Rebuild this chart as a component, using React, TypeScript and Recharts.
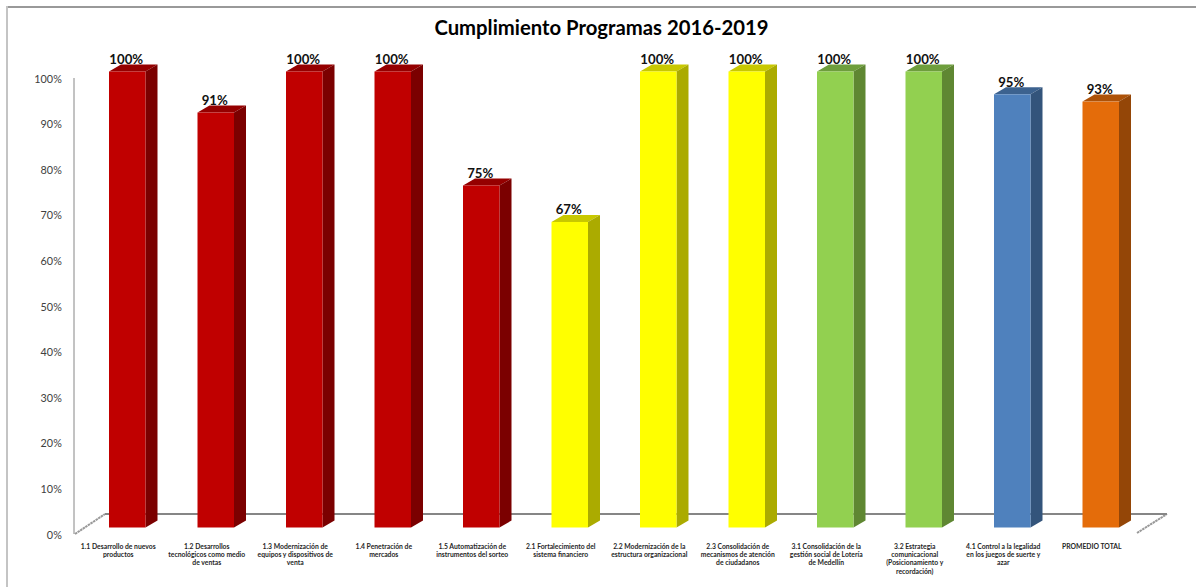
import React from 'react';
import { BarChart, Bar, XAxis, YAxis, LabelList, Customized } from 'recharts';

const titleText = 'Cumplimiento Programas 2016-2019';
const categoryLines: string[][] = [
  ['1.1 Desarrollo de nuevos', 'productos'],
  ['1.2 Desarrollos', 'tecnológicos como medio', 'de ventas'],
  ['1.3 Modernización de', 'equipos y dispositivos de', 'venta'],
  ['1.4 Penetración de', 'mercados'],
  ['1.5 Automatización de', 'instrumentos del sorteo'],
  ['2.1 Fortalecimiento del', 'sistema financiero'],
  ['2.2 Modernización de la', 'estructura organizacional'],
  ['2.3 Consolidación de', 'mecanismos de atención', 'de ciudadanos'],
  ['3.1 Consolidación de la', 'gestión social de Lotería', 'de Medellín'],
  ['3.2 Estrategia', 'comunicacional', '(Posicionamiento y', 'recordación)'],
  ['4.1 Control a la legalidad', 'en los juegos de suerte y', 'azar'],
  ['PROMEDIO TOTAL'],
];
const values = [100, 91, 100, 100, 75, 67, 100, 100, 100, 100, 95, 93.4];
const groups = ['red', 'red', 'red', 'red', 'red', 'yellow', 'yellow', 'yellow', 'green', 'green', 'blue', 'orange'];
const yTicks = [0, 10, 20, 30, 40, 50, 60, 70, 80, 90, 100];

const palette: Record<string, { front: string; top: string; side: string }> = {
  red: { front: '#C00000', top: '#950000', side: '#7B0000' },
  yellow: { front: '#FFFF00', top: '#C8C800', side: '#ABAB00' },
  green: { front: '#92D050', top: '#6E9E3C', side: '#5F8732' },
  blue: { front: '#4F81BD', top: '#3C628F', side: '#33547B' },
  orange: { front: '#E46C0A', top: '#AD5208', side: '#944607' },
};

const data = categoryLines.map((lines, i) => ({
  name: lines.join(' '),
  lines,
  value: values[i],
  group: groups[i],
}));

const FONT = 'Lato, Carlito, sans-serif';
const SHIFT_X = 9;
const SHIFT_Y = -6.5;
const DEPTH_X = 12;
const DEPTH_Y = -7;

function Bar3D(props: any) {
  const { x, y, width, height, payload } = props;
  const c = palette[payload.group];
  const l = x + SHIFT_X;
  const r = l + width;
  const t = y + SHIFT_Y;
  const b = t + height;
  return (
    <g>
      <polygon points={`${l},${t} ${l + DEPTH_X},${t + DEPTH_Y} ${r + DEPTH_X},${t + DEPTH_Y} ${r},${t}`} fill={c.top} />
      <polygon points={`${r},${t} ${r + DEPTH_X},${t + DEPTH_Y} ${r + DEPTH_X},${b + DEPTH_Y} ${r},${b}`} fill={c.side} />
      <rect x={l} y={t} width={width} height={height} fill={c.front} />
    </g>
  );
}

function ValueLabel(props: any) {
  const { x, y, width, value } = props;
  return (
    <text x={x + SHIFT_X + width / 2 - 1} y={y + SHIFT_Y - 7.5} textAnchor="middle" fontFamily={FONT} fontWeight={700} fontSize={13.2} fill="#111">
      {Math.round(value)}%
    </text>
  );
}

function CategoryTick(props: any) {
  const { x, y, index } = props;
  const lines = categoryLines[index] || [];
  return (
    <text textAnchor="middle" fontFamily={FONT} fontWeight={700} fontSize={6.8} fill="#262626">
      {lines.map((line, i) => (
        <tspan key={i} x={x} y={y + 8.5 + i * 8.35}>{line}</tspan>
      ))}
    </text>
  );
}

function ValueTick(props: any) {
  const { x, y, payload } = props;
  return (
    <text x={x} y={y + 4.5} textAnchor="end" fontFamily={FONT} fontSize={10.8} letterSpacing={0.1} fill="#404040">
      {payload.value}%
    </text>
  );
}

function Decor() {
  return (
    <g>
      <text x={601.5} y={34.5} textAnchor="middle" fontFamily={FONT} fontWeight={700} fontSize={20.3} fill="#000">{titleText}</text>
      <line x1={75} y1={534} x2={105} y2={514} stroke="#999" strokeWidth={2} strokeDasharray="2.5 0.6" />
      <line x1={1137} y1={533} x2={1167} y2={514} stroke="#999" strokeWidth={2} strokeDasharray="2.5 0.6" />
      <line x1={105} y1={514} x2={1167} y2={514} stroke="#868686" strokeWidth={2} />
    </g>
  );
}

export default function App() {
  return (
    <div style={{ position: 'absolute', left: 0, top: 0, width: 1196, height: 587, background: '#fff', overflow: 'hidden' }}>
      <div style={{ position: 'absolute', left: 6, top: 6, right: 0, height: 0, borderTop: '2px solid #999' }} />
      <div style={{ position: 'absolute', left: 6, top: 6, bottom: 0, width: 0, borderLeft: '2px solid #c4c4c4' }} />
      <div style={{ position: 'absolute', left: 0, top: 0 }}>
        <BarChart width={1196} height={587} data={data} margin={{ top: 78, right: 60, bottom: 0, left: 0 }} barSize={36.5}>
          <Customized component={Decor} />
          <XAxis dataKey="name" interval={0} height={53} tickLine={false} axisLine={false} tick={<CategoryTick />} tickMargin={0} />
          <YAxis
            width={74}
            domain={[0, 100]}
            ticks={yTicks}
            interval={0}
            tickLine={false}
            tickSize={0}
            tickMargin={12}
            axisLine={{ stroke: '#868686', strokeWidth: 1 }}
            tick={<ValueTick />}
          />
          <Bar dataKey="value" isAnimationActive={false} shape={<Bar3D />}>
            <LabelList dataKey="value" content={<ValueLabel />} />
          </Bar>
        </BarChart>
      </div>
    </div>
  );
}
